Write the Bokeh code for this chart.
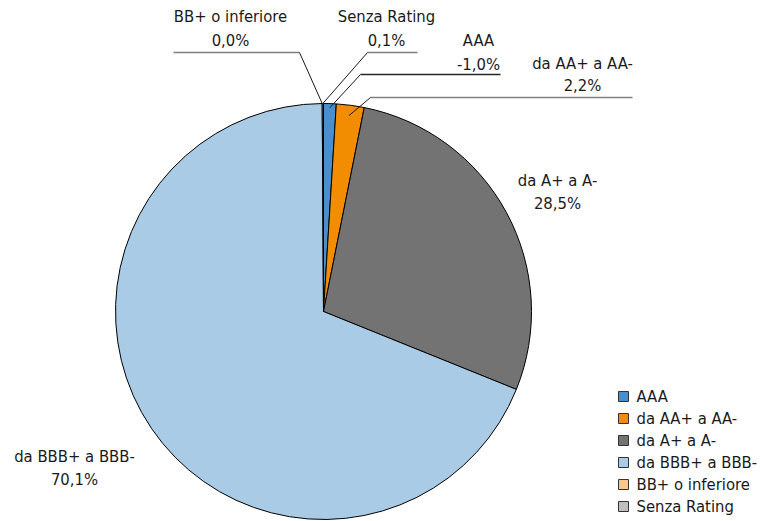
import numpy as np
from bokeh.plotting import figure
from bokeh.models import Range1d, ColumnDataSource
from bokeh.core.properties import value
from bokeh.embed import file_html
from bokeh.resources import INLINE

# ---- data ----
categories = ["AAA", "da AA+ a AA-", "da A+ a A-", "da BBB+ a BBB-", "BB+ o inferiore", "Senza Rating"]
values = [-1.0, 2.2, 28.5, 70.1, 0.0, 0.1]
pct_labels = ["-1,0%", "2,2%", "28,5%", "70,1%", "0,0%", "0,1%"]
colors = ["#4a8fcd", "#f28c00", "#737373", "#a9cbe5", "#fbc68a", "#bfbfbf"]

# ---- layout (screen pixels of the picture) ----
W, H = 762, 521
FONT = value("DejaVu Sans Condensed")
FS = "16.5px"
TXT = "#1a1a1a"
CX, CY, R = 323, 311, 208


def Y(y):
    return H - y


p = figure(width=W, height=H, x_range=Range1d(0, W), y_range=Range1d(0, H),
           output_backend="svg", toolbar_location=None, min_border=0,
           x_axis_location=None, y_axis_location=None, outline_line_color=None)
p.xgrid.visible = False
p.ygrid.visible = False
p.background_fill_color = "white"
p.border_fill_color = "white"

absv = np.abs(np.array(values))
frac = absv / absv.sum()
cum = np.concatenate([[0], np.cumsum(frac)])
start = np.pi / 2 - 2 * np.pi * cum[:-1]
end = np.pi / 2 - 2 * np.pi * cum[1:]
mid = (start + end) / 2

keep = absv > 0
src = ColumnDataSource(dict(
    start=start[keep], end=end[keep], color=[c for c, k in zip(colors, keep) if k],
))
p.wedge(x=CX, y=Y(CY), radius=R, start_angle="start", end_angle="end", direction="clock",
        fill_color="color", line_color="black", line_width=1, source=src)

# ---- labels ----
label_pos = {
    "AAA": (478, 40, 64),
    "da AA+ a AA-": (582, 63, 85),
    "da A+ a A-": (557, 180, 203),
    "da BBB+ a BBB-": (74, 456, 479),
    "BB+ o inferiore": (230, 16, 40),
    "Senza Rating": (386, 16, 40),
}
lx, ly, lt = [], [], []
for cat, pct in zip(categories, pct_labels):
    x, y1, y2 = label_pos[cat]
    lx += [x, x]
    ly += [Y(y1), Y(y2)]
    lt += [cat, pct]
p.text(x=lx, y=ly, text=lt, text_font=FONT, text_font_size=FS, text_color=TXT,
       text_align="center", text_baseline="middle")

# ---- leader lines ----
# (category, horizontal x0, horizontal x1, elbow x, y, radius factor, h colour)
leaders = [
    ("BB+ o inferiore", 173, 299, 299, 52, 1.0, "#7f7f7f"),
    ("Senza Rating", 367, 417, 367, 52, 1.0, "#7f7f7f"),
    ("AAA", 360, 500, 360, 74, 0.98, "#262626"),
    ("da AA+ a AA-", 370, 632, 370, 97, 0.95, "#7f7f7f"),
]
for cat, hx0, hx1, ex, ey, rf, hc in leaders:
    i = categories.index(cat)
    px = CX + rf * R * np.cos(mid[i])
    py = Y(CY) + rf * R * np.sin(mid[i])
    p.line(x=[hx0, hx1], y=[Y(ey), Y(ey)], line_color=hc, line_width=1.3)
    p.line(x=[ex, px], y=[Y(ey), py], line_color="#1a1a1a", line_width=1)

# ---- legend ----
leg_y = [Y(396 + 22 * i) for i in range(len(categories))]
p.rect(x=[623] * len(categories), y=leg_y, width=10, height=10, width_units="screen",
       height_units="screen", fill_color=colors, line_color="#333333", line_width=1)
p.text(x=[636] * len(categories), y=leg_y, text=categories, text_font=FONT, text_font_size=FS,
       text_color=TXT, text_align="left", text_baseline="middle")

open("out.html", "w").write(file_html(p, INLINE))
